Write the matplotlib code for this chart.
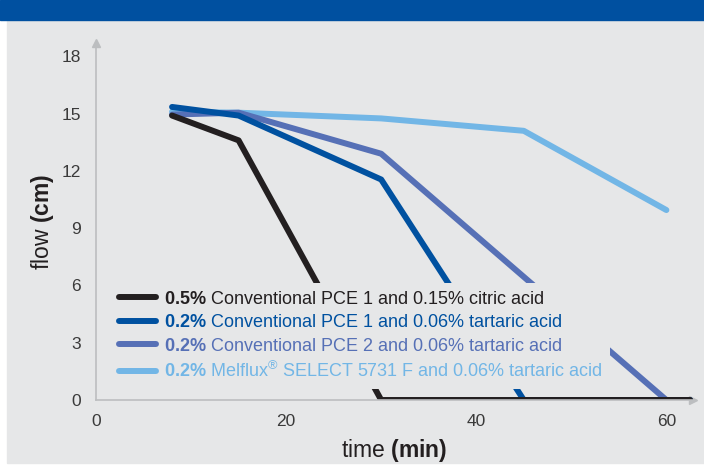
import matplotlib.pyplot as plt
from matplotlib.patches import Rectangle

plt.rcParams['font.family'] = ['Liberation Sans', 'DejaVu Sans']
plt.rcParams['mathtext.fontset'] = 'custom'
plt.rcParams['mathtext.rm'] = 'Liberation Sans'
plt.rcParams['mathtext.bf'] = 'Liberation Sans:bold'
plt.rcParams['mathtext.it'] = 'Liberation Sans:italic'

# data
t_black = [8, 15, 30, 62.5]
flow_black = [14.9, 13.6, 0, 0]
t_dark = [8, 15, 30, 45, 62.5]
flow_dark = [15.35, 14.9, 11.55, 0, 0]
t_mid = [8, 15, 30, 60]
flow_mid = [14.95, 15.05, 12.9, 0]
t_light = [8, 15, 30, 45, 60]
flow_light = [15.1, 15.05, 14.75, 14.1, 9.95]

labels = [
    r'$\bf{0.5\%}$ Conventional PCE 1 and 0.15% citric acid',
    r'$\bf{0.2\%}$ Conventional PCE 1 and 0.06% tartaric acid',
    r'$\bf{0.2\%}$ Conventional PCE 2 and 0.06% tartaric acid',
    r'$\bf{0.2\%}$ Melflux$^{®}$ SELECT 5731 F and 0.06% tartaric acid',
]
colors = ['#231f20', '#0051a0', '#5670b6', '#72b6e6']
x_ticks = [0, 20, 40, 60]
y_ticks = [0, 3, 6, 9, 12, 15, 18]
bg = '#e6e7e8'

fig = plt.figure(figsize=(7.04, 4.66), dpi=100)
fig.patch.set_facecolor('white')
fig.patches.append(Rectangle((7 / 704, 0.007), 1, 1, transform=fig.transFigure,
                             color=bg, zorder=-10))
fig.patches.append(Rectangle((0, 1 - 20 / 466), 1, 20 / 466, transform=fig.transFigure,
                             color='#0050a0', zorder=-9))

ax = fig.add_axes([96 / 704, 66 / 466, 597 / 704, 357 / 466])
ax.set_facecolor('none')

lw = 4.3
l_light, = ax.plot(t_light, flow_light, color=colors[3], lw=lw, solid_capstyle='round')
l_mid, = ax.plot(t_mid, flow_mid, color=colors[2], lw=lw, solid_capstyle='round')
l_dark, = ax.plot(t_dark, flow_dark, color=colors[1], lw=lw, solid_capstyle='round')
l_black, = ax.plot(t_black, flow_black, color=colors[0], lw=lw, solid_capstyle='round')

ax.set_xlim(0, 62.8)
ax.set_ylim(0, 18.7)
ax.set_xticks(x_ticks)
ax.set_yticks(y_ticks)
ax.tick_params(length=0, labelsize=12.5, labelcolor='#3a3a3a')
ax.tick_params(axis='y', pad=11)
ax.tick_params(axis='x', pad=10)
for s in ['top', 'right']:
    ax.spines[s].set_visible(False)
for s in ['left', 'bottom']:
    ax.spines[s].set_color('#bcbec0')
    ax.spines[s].set_linewidth(1.2)
ax.plot(0, 1, marker='^', color='#bcbec0', ms=6, transform=ax.transAxes, clip_on=False)
ax.plot(1, 0, marker='>', color='#bcbec0', ms=6, transform=ax.transAxes, clip_on=False, zorder=0)

ax.set_xlabel(r'time $\bf{(min)}$', fontsize=16.5, color='#231f20', labelpad=6)
ax.set_ylabel(r'flow $\bf{(cm)}$', fontsize=16.5, color='#231f20', labelpad=4)

leg = ax.legend([l_black, l_dark, l_mid, l_light], labels, loc='upper left',
                bbox_to_anchor=(111 / 704, 1 - 283 / 466), bbox_transform=fig.transFigure,
                frameon=True, facecolor=bg, edgecolor='none', framealpha=1, fancybox=False,
                fontsize=13, handlelength=2.05, handletextpad=0.44,
                labelspacing=0.36, borderpad=0.42, borderaxespad=0, labelcolor='linecolor')

fig.savefig('out.png', dpi=100, facecolor=fig.get_facecolor())
